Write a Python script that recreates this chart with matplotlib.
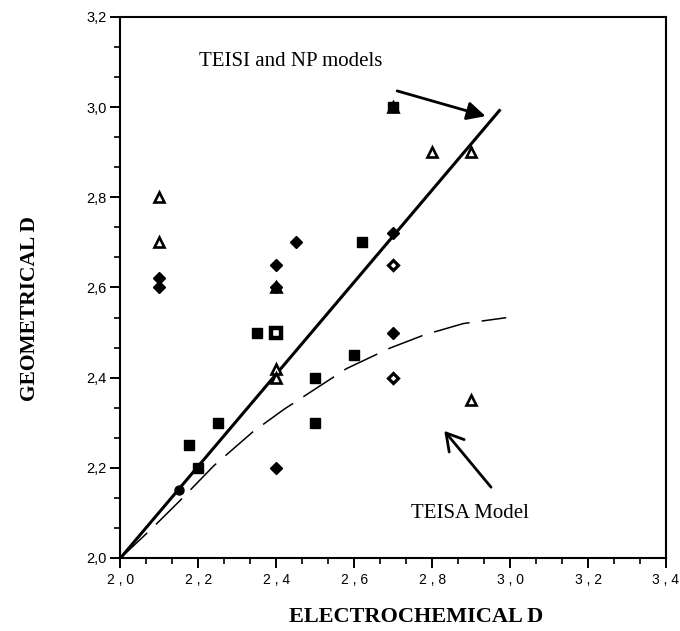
import matplotlib.pyplot as plt
from matplotlib.ticker import MultipleLocator, FuncFormatter

# filled diamonds
dia_x = [2.1, 2.1, 2.4, 2.4, 2.45, 2.7, 2.7, 2.4]
dia_y = [2.62, 2.60, 2.65, 2.60, 2.70, 2.72, 2.50, 2.20]
# open diamonds
odia_x = [2.7, 2.7]
odia_y = [2.65, 2.40]
# filled squares
sq_x = [2.175, 2.2, 2.25, 2.35, 2.5, 2.5, 2.6, 2.62, 2.7]
sq_y = [2.25, 2.2, 2.3, 2.5, 2.4, 2.3, 2.45, 2.7, 3.0]
# open square
osq_x = [2.4]
osq_y = [2.5]
# open triangles
tri_x = [2.1, 2.1, 2.4, 2.4, 2.4, 2.8, 2.9, 2.9, 2.7]
tri_y = [2.8, 2.7, 2.42, 2.4, 2.6, 2.9, 2.9, 2.35, 3.0]
# circle
circ_x = [2.15]
circ_y = [2.15]

# TEISI and NP models (straight line)
teisi_x = [2.0, 2.975]
teisi_y = [2.0, 2.995]
# TEISA model (dashed curve)
teisa_x = [2.0, 2.08, 2.15, 2.24, 2.34, 2.42, 2.5, 2.58, 2.69, 2.78, 2.88, 2.99]
teisa_y = [2.0, 2.065, 2.125, 2.205, 2.28, 2.33, 2.375, 2.42, 2.465, 2.495, 2.52, 2.533]

fig = plt.figure(figsize=(6.8, 6.31), dpi=100)
ax = fig.add_axes([0.1772, 0.1157, 0.8022, 0.8574])

ax.plot(teisi_x, teisi_y, color='k', lw=2.2, solid_capstyle='butt')
ax.plot(teisa_x, teisa_y, color='k', lw=1.1, dashes=(24, 8))

# triangles first so overlapping filled marks sit on top
ax.plot(tri_x, tri_y, '^', mfc='white', mec='k', mew=1.9, ms=6.5, ls='none')
ax.plot(dia_x, dia_y, 'D', color='k', ms=6.3, ls='none')
ax.plot(odia_x, odia_y, 'D', mfc='white', mec='k', mew=2.3, ms=5, ls='none')
ax.plot(sq_x, sq_y, 's', color='k', ms=7, ls='none')
ax.plot(osq_x, osq_y, 's', mfc='white', mec='k', mew=3.2, ms=7, ls='none')
ax.plot(circ_x, circ_y, 'o', color='k', ms=6.5, ls='none')

ax.set_xlim(2.0, 3.4)
ax.set_ylim(2.0, 3.2)
ax.xaxis.set_major_locator(MultipleLocator(0.2))
ax.yaxis.set_major_locator(MultipleLocator(0.2))
ax.xaxis.set_minor_locator(MultipleLocator(0.2 / 3))
ax.yaxis.set_minor_locator(MultipleLocator(0.2 / 3))
ax.xaxis.set_major_formatter(FuncFormatter(lambda v, p: f"{v:.1f}".replace('.', ' , ')))
ax.yaxis.set_major_formatter(FuncFormatter(lambda v, p: f"{v:.1f}".replace('.', ',')))
ax.tick_params(which='major', direction='out', length=7, width=1.4)
ax.tick_params(which='minor', direction='out', length=4, width=1.2)
ax.tick_params(axis='x', labelsize=10, pad=4)
ax.tick_params(axis='y', labelsize=10.5, pad=3)
for lab in ax.get_xticklabels() + ax.get_yticklabels():
    lab.set_family('Liberation Sans')
for s in ax.spines.values():
    s.set_linewidth(1.5)

serif = 'Liberation Serif'
ax.text(2.201, 3.102, 'TEISI and NP models', family=serif, fontsize=15,
        va='center', ha='left')
ax.text(2.745, 2.098, 'TEISA Model', family=serif, fontsize=15,
        va='center', ha='left')

ax.annotate('', xy=(2.937, 2.98), xytext=(2.71, 3.036),
            arrowprops=dict(arrowstyle='-|>', color='k', lw=2,
                            mutation_scale=28, shrinkA=0, shrinkB=0))
ax.annotate('', xy=(2.831, 2.282), xytext=(2.951, 2.157),
            arrowprops=dict(arrowstyle='->,head_length=0.6,head_width=0.35',
                            color='k', lw=2, mutation_scale=20,
                            shrinkA=0, shrinkB=0))

fig.text(416 / 680, 1 - 617 / 631, 'ELECTROCHEMICAL D', family=serif,
         fontweight='bold', fontsize=16, ha='center', va='center')
fig.text(30 / 680, 1 - 309 / 631, 'GEOMETRICAL D', family=serif,
         fontweight='bold', fontsize=15.5, ha='center', va='center',
         rotation=90)

fig.savefig('out.png', dpi=100, facecolor='white')
